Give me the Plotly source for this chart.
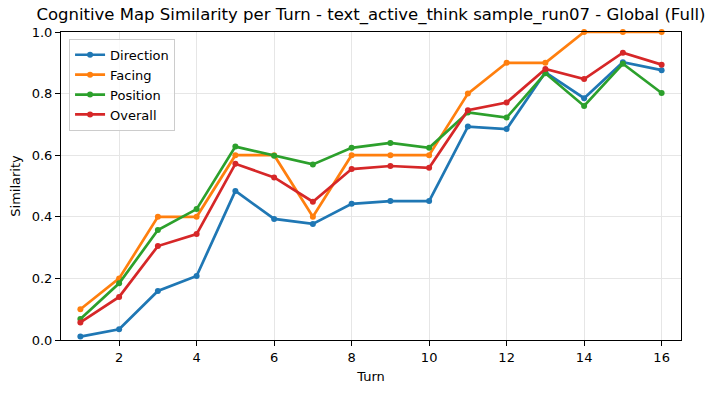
import plotly.graph_objects as go

turns = list(range(1, 17))
direction = [0.011, 0.035, 0.159, 0.208, 0.484, 0.393, 0.377, 0.442, 0.451, 0.451, 0.693, 0.685, 0.869, 0.785, 0.902, 0.876]
facing = [0.1, 0.2, 0.4, 0.4, 0.6, 0.6, 0.4, 0.6, 0.6, 0.6, 0.8, 0.9, 0.9, 1.0, 1.0, 1.0]
position = [0.068, 0.184, 0.357, 0.425, 0.628, 0.598, 0.570, 0.624, 0.640, 0.624, 0.739, 0.722, 0.866, 0.760, 0.897, 0.802]
overall = [0.057, 0.140, 0.305, 0.344, 0.572, 0.528, 0.449, 0.555, 0.565, 0.559, 0.746, 0.771, 0.880, 0.847, 0.933, 0.894]

series = [
    ("Direction", direction, "#1f77b4"),
    ("Facing", facing, "#ff7f0e"),
    ("Position", position, "#2ca02c"),
    ("Overall", overall, "#d62728"),
]

fig = go.Figure()
for name, vals, color in series:
    fig.add_trace(go.Scatter(
        x=turns, y=vals, name=name, mode="lines+markers",
        line=dict(color=color, width=2.7),
        marker=dict(color=color, size=6),
        cliponaxis=False,
    ))

font_family = "DejaVu Sans"
fig.update_layout(
    width=717, height=393,
    margin=dict(l=61, r=36, t=32, b=53),
    paper_bgcolor="white", plot_bgcolor="white",
    font=dict(family=font_family, size=13, color="black"),
    title=dict(
        text="Cognitive Map Similarity per Turn - text_active_think sample_run07 - Global (Full)",
        x=0.5174, xanchor="center", y=0.963, yanchor="middle",
        font=dict(size=16.5, family=font_family, color="black"),
    ),
    showlegend=True,
    legend=dict(
        x=0.013, y=0.978, xanchor="left", yanchor="top",
        bordercolor="#cccccc", borderwidth=1, bgcolor="rgba(255,255,255,0.8)",
        font=dict(size=13, family=font_family),
        tracegroupgap=0,
    ),
)
fig.update_xaxes(
    range=[0.5, 16.5], tickmode="array", tickvals=list(range(2, 17, 2)),
    showline=True, linecolor="black", linewidth=1, mirror=True,
    ticks="outside", ticklen=5, tickcolor="black",
    showgrid=True, gridcolor="#e6e6e6", gridwidth=1, zeroline=False,
    title=dict(text="Turn", font=dict(size=13), standoff=8),
)
fig.update_yaxes(
    range=[0, 1], tickmode="array", tickvals=[0, 0.2, 0.4, 0.6, 0.8, 1.0],
    ticktext=["0.0", "0.2", "0.4", "0.6", "0.8", "1.0"],
    showline=True, linecolor="black", linewidth=1, mirror=True,
    ticks="outside", ticklen=5, tickcolor="black",
    showgrid=True, gridcolor="#e6e6e6", gridwidth=1, zeroline=False,
    title=dict(text="Similarity", font=dict(size=13), standoff=8),
)

fig.write_html("out.html", config={"displayModeBar": False},
               post_script="document.body.style.margin='0';")
